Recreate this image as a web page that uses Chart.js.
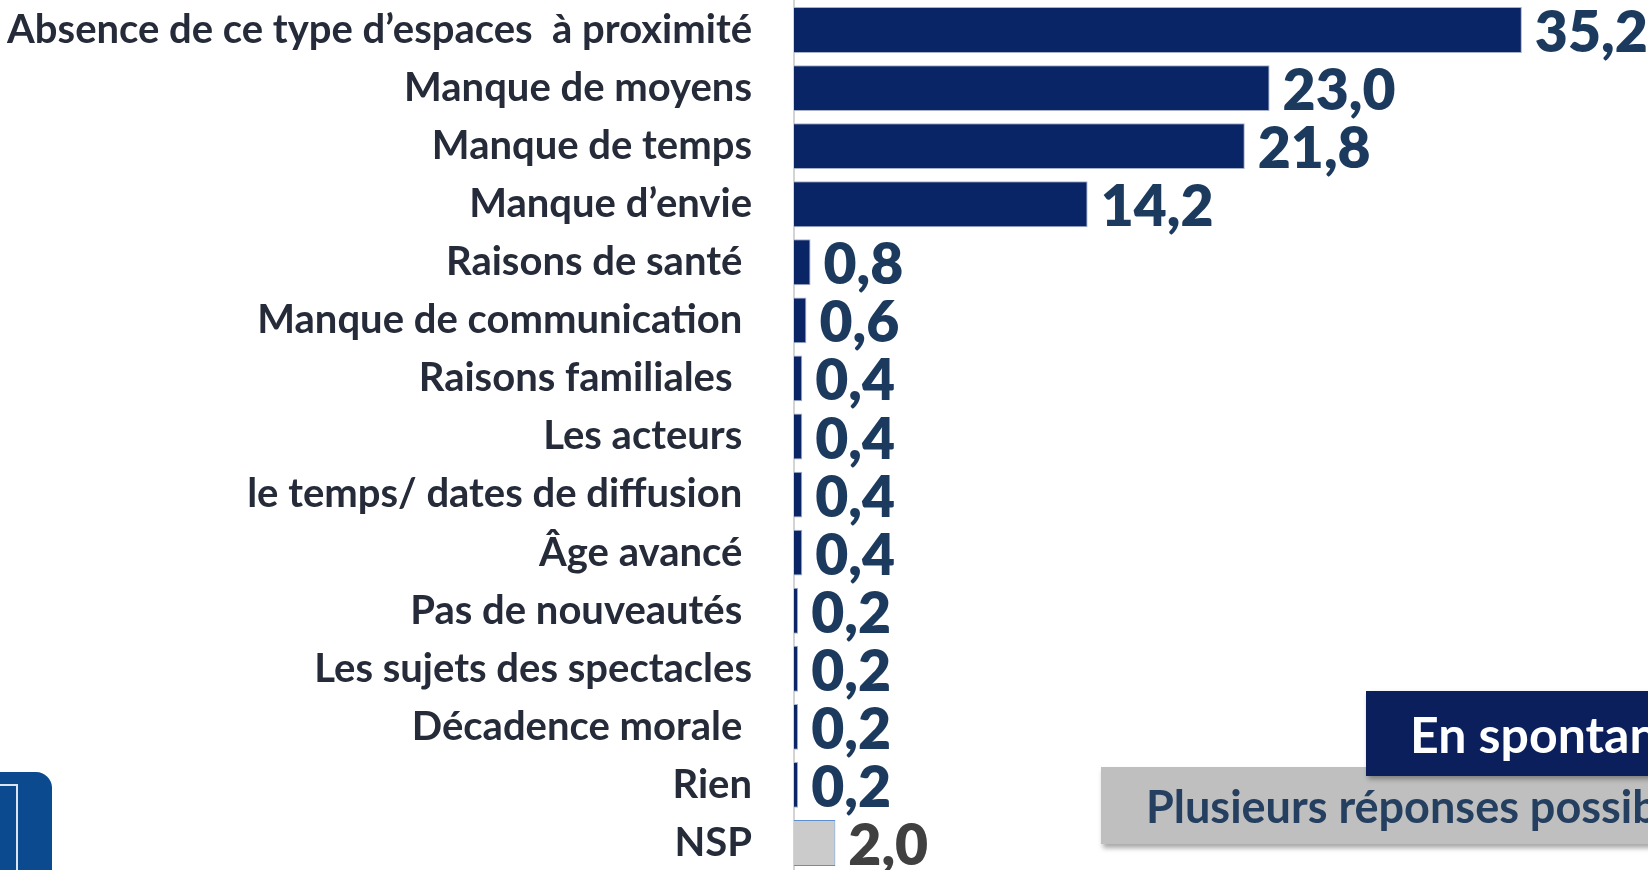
<!DOCTYPE html>
<html lang="fr">
<head>
<meta charset="utf-8">
<title>Raisons</title>
<script src="https://cdn.jsdelivr.net/npm/chart.js@4.4.1/dist/chart.umd.min.js"></script>
<style>
  html, body { margin:0; padding:0; background:#fff; width:1648px; height:870px; overflow:hidden; }
  #wrap { position:absolute; left:0; top:0; width:1648px; height:872px; }
  .tag-grey {
    position:absolute; left:1101px; top:767px; width:600px; height:77px;
    background:#bfbfbf; box-shadow:2px 4px 5px rgba(0,0,0,0.35);
    font:bold 45px Lato, sans-serif; color:#243f60;
    display:flex; align-items:center; padding-left:45px; box-sizing:border-box; white-space:nowrap;
  }
  .tag-navy {
    position:absolute; left:1366px; top:691px; width:340px; height:85px;
    background:#0a1f5c; box-shadow:2px 3px 5px rgba(0,0,0,0.35);
    font:bold 50px Lato, sans-serif; color:#fff;
    display:flex; align-items:center; padding-left:44px; box-sizing:border-box; white-space:nowrap;
  }
  .logo { position:absolute; left:0; top:772px; width:52px; height:110px; background:#0b4a8e; border-top-right-radius:16px; overflow:hidden; }
  .logo-inner { position:absolute; left:-10px; top:12px; width:24px; height:200px; border:2px solid #dbe4f1; }
</style>
</head>
<body>
<div id="wrap"><canvas id="chart" width="1648" height="872"></canvas></div>
<div class="tag-grey">Plusieurs réponses possibles</div>
<div class="tag-navy">En spontané</div>
<div class="logo"><div class="logo-inner"></div></div>

<script>
// categories, top to bottom (trailing spaces are in the source labels)
const categories = [
  'Absence de ce type d’espaces  à proximité',
  'Manque de moyens',
  'Manque de temps',
  'Manque d’envie',
  'Raisons de santé ',
  'Manque de communication ',
  'Raisons familiales  ',
  'Les acteurs ',
  'le temps/ dates de diffusion ',
  'Âge avancé ',
  'Pas de nouveautés ',
  'Les sujets des spectacles',
  'Décadence morale ',
  'Rien',
  'NSP'
];
// % of answers
const percentages = [35.2, 23.0, 21.8, 14.2, 0.8, 0.6, 0.4, 0.4, 0.4, 0.4, 0.2, 0.2, 0.2, 0.2, 2.0];

const NAVY = '#0a2566', GREY = '#cbcbcb';
const isNsp = c => c === 'NSP';
const barColors = categories.map(c => isNsp(c) ? GREY : NAVY);
const barBorders = categories.map(c => isNsp(c) ? '#5d8fd1' : '#a7b1cb');
const valueColors = categories.map(c => isNsp(c) ? '#404040' : '#1c3a5e');

// values drawn right after each bar, french decimal comma
const valueLabels = {
  id: 'valueLabels',
  afterDatasetsDraw(chart) {
    const ctx = chart.ctx;
    const meta = chart.getDatasetMeta(0);
    ctx.save();
    ctx.font = '800 57px Lato';
    ctx.textAlign = 'left';
    ctx.textBaseline = 'alphabetic';
    meta.data.forEach((bar, i) => {
      ctx.fillStyle = valueColors[i];
      ctx.fillText(percentages[i].toFixed(1).replace('.', ','), bar.x + 13, bar.y + 22);
    });
    ctx.restore();
  }
};

new Chart(document.getElementById('chart'), {
  type: 'bar',
  data: {
    labels: categories,
    datasets: [{
      data: percentages,
      backgroundColor: barColors,
      borderColor: barBorders,
      borderWidth: 1,
      barPercentage: 0.79,
      categoryPercentage: 1
    }]
  },
  options: {
    indexAxis: 'y',
    responsive: false,
    animation: false,
    layout: { padding: { top: 1, bottom: 0, left: 0, right: 0 } },
    plugins: { legend: { display: false }, tooltip: { enabled: false } },
    scales: {
      x: { display: false, min: 0, max: 41.3 },
      y: {
        // fixed axis width, and no extra top/bottom room for the labels
        afterFit: s => { s.width = 794; s.paddingTop = 0; s.paddingBottom = 0; },
        grid: { display: false, drawTicks: false },
        border: { display: true, color: '#d4d4d4', width: 2 },
        ticks: {
          autoSkip: false,
          padding: 42,
          color: '#252b39',
          font: { family: 'Lato', weight: 'bold', size: 40 }
        }
      }
    }
  },
  plugins: [valueLabels]
});
</script>
</body>
</html>
